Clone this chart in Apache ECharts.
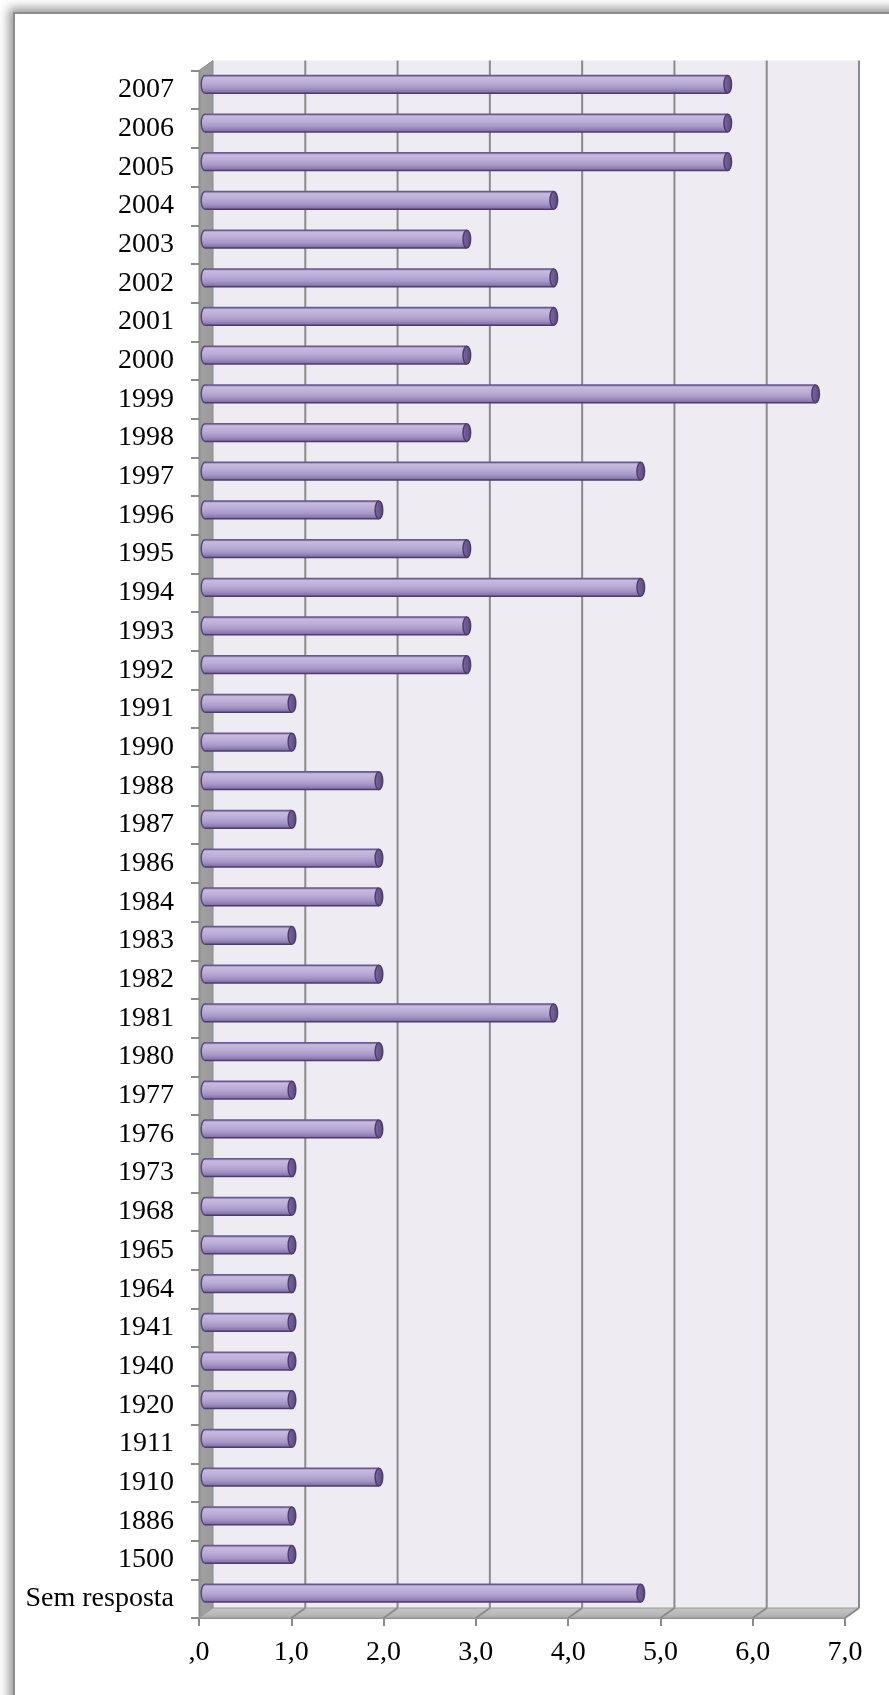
<!DOCTYPE html>
<html>
<head>
<meta charset="utf-8">
<title>Ano</title>
<script src="https://cdn.jsdelivr.net/npm/echarts@6/dist/echarts.min.js"></script>
<style>
  html, body { margin: 0; padding: 0; width: 889px; height: 1695px; overflow: hidden; background: #ffffff; }
  #frame {
    position: absolute; left: 13px; top: 12px; width: 900px; height: 1720px;
    border: 2px solid #8d8d8d; background: #ffffff;
    box-shadow: 0 0 10px 4px rgba(0,0,0,0.42);
  }
  #chart { position: absolute; left: 0; top: 0; width: 889px; height: 1695px; }
</style>
</head>
<body>
<div id="frame"></div>
<div id="chart"></div>
<script>
// Categories (top to bottom) and their shares in percent
const categories = [
  '2007', '2006', '2005', '2004', '2003', '2002', '2001', '2000', '1999', '1998',
  '1997', '1996', '1995', '1994', '1993', '1992', '1991', '1990', '1988', '1987',
  '1986', '1984', '1983', '1982', '1981', '1980', '1977', '1976', '1973', '1968',
  '1965', '1964', '1941', '1940', '1920', '1911', '1910', '1886', '1500', 'Sem resposta'
];
const shares = [
  5.71, 5.71, 5.71, 3.81, 2.86, 3.81, 3.81, 2.86, 6.67, 2.86,
  4.76, 1.90, 2.86, 4.76, 2.86, 2.86, 0.95, 0.95, 1.90, 0.95,
  1.90, 1.90, 0.95, 1.90, 3.81, 1.90, 0.95, 1.90, 0.95, 0.95,
  0.95, 0.95, 0.95, 0.95, 0.95, 0.95, 1.90, 0.95, 0.95, 4.76
];
const axisTicks = [0, 1, 2, 3, 4, 5, 6, 7];

// depth offset of the back wall relative to the front plane
const DX = 14, DY = -10;
// bars sit a little behind the front plane, so their scale is slightly shorter
const BAR_DEPTH_SCALE = 0.992;
const GRID_COLOR = '#8b8b8b';
const FONT = '"Liberation Serif", "DejaVu Serif", serif';

function tickLabel(v) {
  const s = v.toFixed(1).replace('.', ',');
  return v === 0 ? ',0' : s;
}

// back wall, side wall, floor and their gridlines
function renderWalls(params, api) {
  const cs = params.coordSys;
  const left = cs.x, top = cs.y, right = cs.x + cs.width, bottom = cs.y + cs.height;
  const children = [];
  children.push({
    type: 'rect',
    shape: { x: left + DX, y: top + DY, width: cs.width, height: cs.height },
    style: { fill: '#eeebf3' }
  });
  axisTicks.forEach(function (t) {
    if (t === 0) return;
    const x = api.coord([t, 0])[0];
    children.push({
      type: 'line',
      shape: { x1: x + DX, y1: top + DY, x2: x + DX, y2: bottom + DY },
      style: { stroke: GRID_COLOR, lineWidth: 2 }
    });
  });
  // side wall
  children.push({
    type: 'polygon',
    shape: { points: [[left, top], [left + DX, top + DY], [left + DX, bottom + DY], [left, bottom]] },
    style: {
      fill: new echarts.graphic.LinearGradient(0, 0, 1, 0, [
        { offset: 0, color: '#8e8e8e' }, { offset: 0.25, color: '#a0a0a0' }, { offset: 1, color: '#9a9a9a' }
      ]),
      stroke: '#8a8a8a', lineWidth: 1
    }
  });
  // floor
  children.push({
    type: 'polygon',
    shape: { points: [[left, bottom], [left + DX, bottom + DY], [right + DX, bottom + DY], [right, bottom]] },
    style: {
      fill: new echarts.graphic.LinearGradient(0, 0, 0, 1, [
        { offset: 0, color: '#c6c6c6' }, { offset: 0.6, color: '#b9b9b9' }, { offset: 1, color: '#a8a8a8' }
      ]),
      stroke: '#9a9a9a', lineWidth: 1
    }
  });
  axisTicks.forEach(function (t) {
    if (t === 0) return;
    const x = api.coord([t, 0])[0];
    children.push({
      type: 'line',
      shape: { x1: x, y1: bottom, x2: x + DX, y2: bottom + DY },
      style: { stroke: GRID_COLOR, lineWidth: 2 }
    });
  });
  return { type: 'group', children: children };
}

// horizontal cylinder for one category
function renderCylinder(params, api) {
  const v = api.value(0), i = api.value(1);
  const p0 = api.coord([0, i]);
  const p1 = api.coord([v, i]);
  const band = api.size([0, 1])[1];
  const h = band * 0.46;
  const cy = p0[1] + DY / 2 - 0.5;
  const xs = p0[0] + DX / 2 - 1;
  const xe = xs + (p1[0] - p0[0]) * BAR_DEPTH_SCALE;
  const rx = 3.8;
  const y0 = cy - h / 2, y1 = cy + h / 2;
  const bodyFill = new echarts.graphic.LinearGradient(0, 0, 0, 1, [
    { offset: 0, color: '#8a78ae' },
    { offset: 0.12, color: '#c6badf' },
    { offset: 0.4, color: '#bbaed7' },
    { offset: 0.72, color: '#a595c6' },
    { offset: 1, color: '#7b6aa1' }
  ]);
  return {
    type: 'group',
    children: [
      {
        type: 'ellipse',
        shape: { cx: xs, cy: cy, rx: rx, ry: h / 2 },
        style: { fill: bodyFill, stroke: '#5a4879', lineWidth: 1.5 }
      },
      {
        type: 'rect',
        shape: { x: xs, y: y0, width: xe - xs, height: h },
        style: { fill: bodyFill }
      },
      {
        type: 'line',
        shape: { x1: xs, y1: y0, x2: xe, y2: y0 },
        style: { stroke: '#6a5890', lineWidth: 1.5 }
      },
      {
        type: 'line',
        shape: { x1: xs, y1: y1, x2: xe, y2: y1 },
        style: { stroke: '#4e3d6c', lineWidth: 1.5 }
      },
      {
        type: 'ellipse',
        shape: { cx: xe, cy: cy, rx: rx, ry: h / 2 },
        style: {
          fill: new echarts.graphic.LinearGradient(0, 0, 1, 0, [
            { offset: 0, color: '#7d6ba3' }, { offset: 0.5, color: '#6a5890' }, { offset: 1, color: '#5a4879' }
          ]),
          stroke: '#4e3d6c', lineWidth: 1.5
        }
      }
    ]
  };
}

const chart = echarts.init(document.getElementById('chart'), null, { renderer: 'canvas' });
chart.setOption({
  animation: false,
  backgroundColor: 'transparent',
  grid: { left: 199, right: 44, top: 70.5, bottom: 77 },
  xAxis: {
    type: 'value', min: 0, max: 7, interval: 1,
    axisLine: { show: true, lineStyle: { color: GRID_COLOR, width: 2 } },
    axisTick: { show: true, length: 8, lineStyle: { color: GRID_COLOR, width: 2 } },
    splitLine: { show: false },
    axisLabel: {
      margin: 21, color: '#000', fontSize: 28, fontFamily: FONT,
      formatter: tickLabel
    }
  },
  yAxis: {
    type: 'category', inverse: true, data: categories,
    axisLine: { show: false },
    axisTick: { show: true, length: 8, lineStyle: { color: GRID_COLOR, width: 2 } },
    axisLabel: { margin: 25, color: '#000', fontSize: 28, fontFamily: FONT }
  },
  series: [
    {
      type: 'custom', name: 'walls', z: 1, silent: true,
      renderItem: renderWalls,
      data: [[0, 0]],
      encode: { x: 0, y: 1 }
    },
    {
      type: 'custom', name: 'Ano', z: 3,
      renderItem: renderCylinder,
      data: shares.map(function (v, i) { return [v, i]; }),
      encode: { x: 0, y: 1 }
    }
  ]
});
</script>
</body>
</html>
